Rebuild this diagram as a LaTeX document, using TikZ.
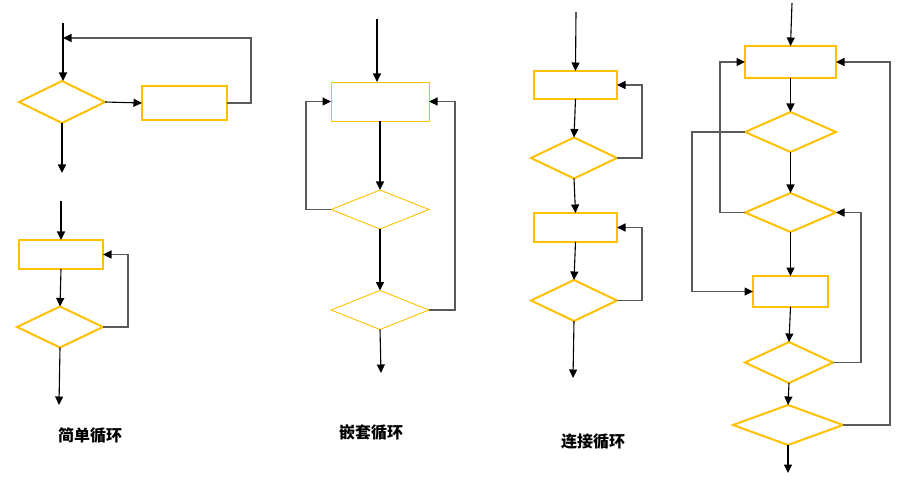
\documentclass[tikz,border=0pt]{standalone}
\usepackage{fontspec}
\newfontfamily\cjk{Noto Sans CJK SC}
\usetikzlibrary{shapes.geometric,arrows.meta}
\definecolor{gold}{HTML}{FFC000}
\definecolor{loopgray}{HTML}{5A5A5A}
\tikzset{
  box/.style={draw=gold, line width=2pt, inner sep=0pt, outer sep=0pt, rectangle},
  dia/.style={diamond, draw=gold, line width=2pt, inner sep=0pt, outer sep=0pt},
  thin/.style={line width=0.9pt},
  arr/.style={-{Triangle[length=8.5pt,width=8pt,color=black]}, line width=1.1pt, draw=black},
  loopl/.style={arr, draw=loopgray},
  lbl/.style={font=\cjk\bfseries\fontsize{16}{18}\selectfont, inner sep=0pt}
}
\begin{document}
\begin{tikzpicture}[x=1pt,y=-1pt]
\useasboundingbox (0,0) rectangle (921,497);
% ---- Panel 1: simple loop (while)
\node[dia, minimum width=86pt, minimum height=42pt] (d1) at (62,102) {};
\node[box, minimum width=85pt, minimum height=34pt] (r1) at (184.5,103) {};
\coordinate (s1) at (63,23);
\coordinate (t1) at (62,173);
\coordinate (c1) at (251,38);
\coordinate (e1) at (63,38);
\draw[arr] (s1) -- (s1 |- d1.north);
\draw[arr] (d1.east) -- (r1.west);
\draw[arr] (d1.south) -- (t1);
\draw[loopl] (r1.east) -| (c1) -- (e1);
% ---- Panel 1b: simple loop (do-while)
\node[box, minimum width=84pt, minimum height=29pt] (r2) at (61,254.5) {};
\node[dia, minimum width=86pt, minimum height=41pt] (d2) at (60,327) {};
\coordinate (s2) at (61,201);
\coordinate (t2) at (59,405);
\draw[arr] (s2) -- (r2.north);
\draw[arr] (r2.south) -- (d2.north);
\draw[arr] (d2.south) -- (t2);
\draw[loopl] (d2.east) -- ++(25,0) |- (r2.east);
\node[lbl] (l1) at (90,436) {简单循环};
% ---- Panel 2: nested loop
\node[box, thin, draw=gold, minimum width=98pt, minimum height=39pt] (r3) at (380,101.5) {};
\node[dia, thin, minimum width=98pt, minimum height=39pt] (d3) at (380,209.5) {};
\node[dia, thin, minimum width=98pt, minimum height=39pt] (d4) at (380,310) {};
\coordinate (s3) at (377,19);
\coordinate (t3) at (381,373);
\draw[arr] (s3) -- (s3 |- r3.north);
\draw[arr] (r3.south) -- (d3.north);
\draw[arr] (d3.south) -- (d4.north);
\draw[arr] (d4.south) -- (t3);
\draw[loopl] (d3.west) -- ++(-25,0) |- (r3.west);
\draw[loopl] (d4.east) -- ++(26,0) |- (r3.east);
\node[lbl] (l2) at (371,433) {嵌套循环};
% ---- Panel 3: sequential loops
\node[box, minimum width=83pt, minimum height=28pt] (r4) at (575.5,85) {};
\node[dia, minimum width=86pt, minimum height=41pt] (d5) at (574,158) {};
\node[box, minimum width=83pt, minimum height=29pt] (r5) at (575.5,227.5) {};
\node[dia, minimum width=86pt, minimum height=41pt] (d6) at (574,300.5) {};
\coordinate (s4) at (576,12);
\coordinate (t4) at (573,378);
\draw[arr] (s4) -- (r4.north);
\draw[arr] (r4.south) -- (d5.north);
\draw[arr] (d5.south) -- (r5.north);
\draw[arr] (r5.south) -- (d6.north);
\draw[arr] (d6.south) -- (t4);
\draw[loopl] (d5.east) -- ++(25,0) |- (r4.east);
\draw[loopl] (d6.east) -- ++(25,0) |- (r5.east);
\node[lbl] (l3) at (593,442) {连接循环};
% ---- Panel 4: unstructured
\node[box, minimum width=91pt, minimum height=32pt] (rA) at (790.5,62) {};
\node[dia, minimum width=91pt, minimum height=40pt] (dB) at (790.5,132) {};
\node[dia, minimum width=91pt, minimum height=39pt] (dC) at (790.5,212.5) {};
\node[box, minimum width=75pt, minimum height=31pt] (rD) at (790.5,291.5) {};
\node[dia, minimum width=88pt, minimum height=41pt] (dE) at (789,362.5) {};
\node[dia, minimum width=110pt, minimum height=40pt] (dF) at (788,425) {};
\coordinate (s5) at (792,3);
\coordinate (t5) at (788,473);
\draw[arr] (s5) -- (rA.north);
\draw[arr] (rA.south) -- (dB.north);
\draw[arr] (dB.south) -- (dC.north);
\draw[arr] (dC.south) -- (rD.north);
\draw[arr] (rD.south) -- (dE.north);
\draw[arr] (dE.south) -- (dF.north);
\draw[arr] (dF.south) -- (t5);
\draw[loopl] (dC.west) -- ++(-25,0) |- (rA.west);
\draw[loopl] (dB.west) -- ++(-53,0) |- (rD.west);
\draw[loopl] (dE.east) -- ++(28,0) |- (dC.east);
\draw[loopl] (dF.east) -- ++(47,0) |- (rA.east);
\end{tikzpicture}
\end{document}
